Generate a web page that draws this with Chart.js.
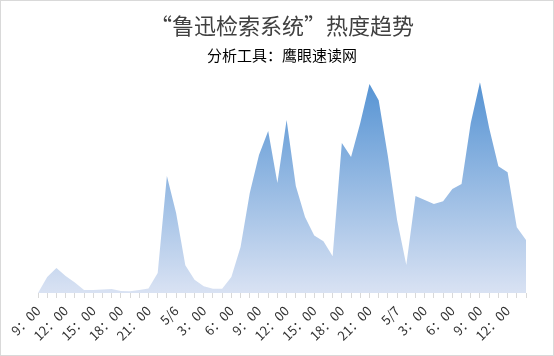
<!DOCTYPE html>
<html><head><meta charset="utf-8">
<script src="https://cdn.jsdelivr.net/npm/chart.js@4/dist/chart.umd.min.js"></script>
<style>
html,body{margin:0;padding:0;background:#fff;}
#wrap{position:relative;width:554px;height:356px;box-sizing:border-box;border:1px solid #d9d9d9;}
canvas{display:block;}
</style></head>
<body><div id="wrap"><canvas id="c" width="552" height="354"></canvas></div>
<script>
const titleText = '“鲁迅检索系统”热度趋势';
const subtitleText = '分析工具：鹰眼速读网';
const categories = [
 '9：00','10：00','11：00','12：00','13：00','14：00','15：00','16：00','17：00','18：00','19：00','20：00','21：00','22：00','23：00',
 '5/6','1：00','2：00','3：00','4：00','5：00','6：00','7：00','8：00','9：00','10：00','11：00','12：00','13：00','14：00','15：00','16：00','17：00','18：00','19：00','20：00','21：00','22：00','23：00',
 '5/7','1：00','2：00','3：00','4：00','5：00','6：00','7：00','8：00','9：00','10：00','11：00','12：00','13：00','14：00'
];
const heat = [0,16,25,17,10.5,3,3,3.5,4,2,1.7,3,4.5,20,117,80,27.7,13.3,6.7,4.3,4.3,16,46,100,138,162,110,173,107,76,57.6,51.7,36.7,150,136,170,209,192.7,136.7,73,28,97,93,89,91.7,104,109,170,210.7,165,126.7,120.7,65.7,53];
const labelEvery = 3;

const ctx = document.getElementById('c').getContext('2d');
new Chart(ctx, {
  type: 'line',
  data: {
    labels: categories,
    datasets: [{
      data: heat,
      fill: 'origin',
      borderWidth: 0,
      borderColor: 'rgba(255,255,255,0)',
      pointRadius: 0,
      tension: 0,
      backgroundColor: (c) => {
        const a = c.chart.chartArea;
        if (!a) return '#9dbde6';
        const g = c.chart.ctx.createLinearGradient(0, a.top, 0, a.bottom);
        g.addColorStop(0, '#5090d2');
        g.addColorStop(1, '#d9e2f3');
        return g;
      }
    }]
  },
  options: {
    responsive: false,
    animation: false,
    devicePixelRatio: 1,
    layout: { padding: { left: 37, right: 27, top: 0, bottom: 0 } },
    plugins: {
      legend: { display: false },
      tooltip: { enabled: false },
      title: { display: true, text: titleText, color: '#404040',
        font: { size: 22, family: '"Noto Sans CJK SC", sans-serif', weight: 'normal' },
        padding: { top: 11, bottom: 4 } },
      subtitle: { display: true, text: subtitleText, color: '#000',
        font: { size: 15, family: '"Noto Sans CJK SC", sans-serif', weight: 'normal' },
        padding: { top: 4, bottom: 8.6 } }
    },
    scales: {
      x: {
        offset: false,
        grid: { display: true, drawOnChartArea: false, drawTicks: true, tickLength: 5, color: '#d9d9d9' },
        border: { display: false },
        afterFit: (s) => { s.height = 62; s.paddingLeft = 0; s.paddingRight = 0; },
        ticks: {
          autoSkip: false, maxRotation: 45, minRotation: 45, color: '#333',
          font: { size: 13, family: '"Noto Sans CJK SC", sans-serif' },
          padding: 5,
          callback: function(v, i) { return i % labelEvery === 0 ? this.getLabelForValue(v) : ''; }
        }
      },
      y: { display: false, min: 0, max: 220 }
    }
  }
});
</script></body></html>
